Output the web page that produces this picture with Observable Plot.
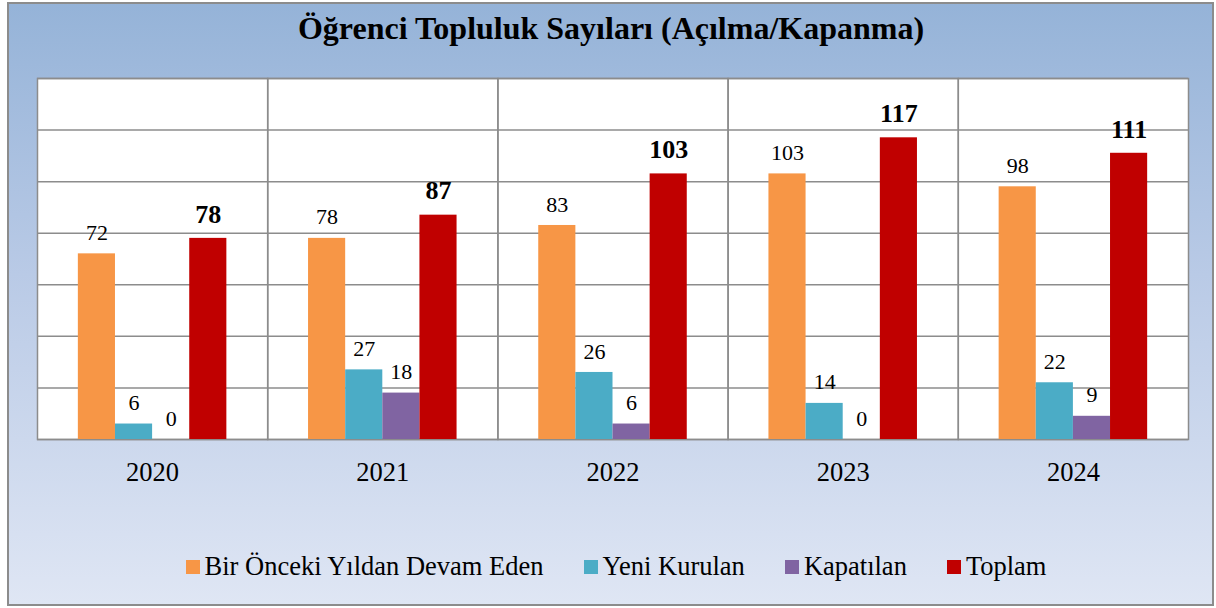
<!DOCTYPE html>
<html>
<head>
<meta charset="utf-8">
<script src="https://cdn.jsdelivr.net/npm/d3@7"></script>
<script src="https://cdn.jsdelivr.net/npm/@observablehq/plot@0.6"></script>
<style>
  html, body { margin: 0; padding: 0; background: #fff; }
  body { width: 1216px; height: 608px; position: relative; overflow: hidden; font-family: 'Liberation Serif', serif; }
  #box { position: absolute; left: 7px; top: 2px; width: 1203px; height: 600px; border: 2px solid #8c8c8c;
         background: linear-gradient(to bottom, #95b3d8 0%, #b9cae6 45%, #dfe6f4 100%); }
  #title { position: absolute; left: 0; top: 10px; width: 1222px; text-align: center; font-weight: bold; font-size: 32px; color: #000; font-family: 'Liberation Serif', serif; }
  #chart { position: absolute; left: 0; top: 0; }
  #chart svg, #chart svg text { font-family: 'Liberation Serif', serif !important; }
  #legend { position: absolute; top: 551px; left: 0; width: 1232px; display: flex; justify-content: center; gap: 40px; font-size: 26.5px; color: #000; font-family: 'Liberation Serif', serif; }
  #legend .item { display: flex; align-items: center; gap: 5px; font-family: 'Liberation Serif', serif; }
  #legend .sw { width: 14px; height: 14px; display: inline-block; }
</style>
</head>
<body>
<div id="box"></div>
<div id="title">Öğrenci Topluluk Sayıları (Açılma/Kapanma)</div>
<div id="chart"></div>
<div id="legend"></div>
<script>
const years = ["2020", "2021", "2022", "2023", "2024"];
const series = ["Bir Önceki Yıldan Devam Eden", "Yeni Kurulan", "Kapatılan", "Toplam"];
const devamEden = [72, 78, 83, 103, 98];
const yeniKurulan = [6, 27, 26, 14, 22];
const kapatilan = [0, 18, 6, 0, 9];
const toplam = [78, 87, 103, 117, 111];
const colors = ["#f79646", "#4bacc6", "#8064a2", "#c00000"];
const yTicks = [0, 20, 40, 60, 80, 100, 120, 140];

const valuesBySeries = [devamEden, yeniKurulan, kapatilan, toplam];
const rows = [];
years.forEach((yr, i) => {
  series.forEach((s, j) => rows.push({year: yr, series: s, value: valuesBySeries[j][i]}));
});

const grid = "#8c8c8c";
const chart = Plot.plot({
  width: 1216,
  height: 608,
  marginTop: 78,
  marginBottom: 169,
  marginLeft: 37,
  marginRight: 28,
  style: {background: "transparent", fontFamily: "'Liberation Serif', serif", color: "#000"},
  fx: {domain: years, padding: 0, round: false, label: null, axis: null},
  x: {domain: series, paddingInner: 0, paddingOuter: 1.1, round: false, axis: null},
  y: {domain: [0, 140], axis: null},
  color: {domain: series, range: colors},
  marks: [
    Plot.frame({fill: "white", stroke: null}),
    Plot.gridY(yTicks, {stroke: grid, strokeOpacity: 1, strokeWidth: 1.5}),
    Plot.frame({stroke: grid, strokeWidth: 1.5}),
    Plot.barY(rows, {fx: "year", x: "series", y: "value", fill: "series"}),
    Plot.text(rows.filter(d => d.series !== "Toplam"), {fx: "year", x: "series", y: "value", text: d => String(d.value), dy: -21, fontSize: 22, fill: "#000"}),
    Plot.text(rows.filter(d => d.series === "Toplam"), {fx: "year", x: "series", y: "value", text: d => String(d.value), dy: -24, fontSize: 26, fontWeight: "bold", fill: "#000"}),
    Plot.axisFx({anchor: "bottom", tickSize: 0, tickPadding: 23, fontSize: 26.5, label: null})
  ]
});
document.getElementById("chart").appendChild(chart);

const legend = document.getElementById("legend");
series.forEach((s, j) => {
  const it = document.createElement("div");
  it.className = "item";
  const sw = document.createElement("span");
  sw.className = "sw";
  sw.style.background = colors[j];
  const tx = document.createElement("span");
  tx.textContent = s;
  it.appendChild(sw);
  it.appendChild(tx);
  legend.appendChild(it);
});
</script>
</body>
</html>
